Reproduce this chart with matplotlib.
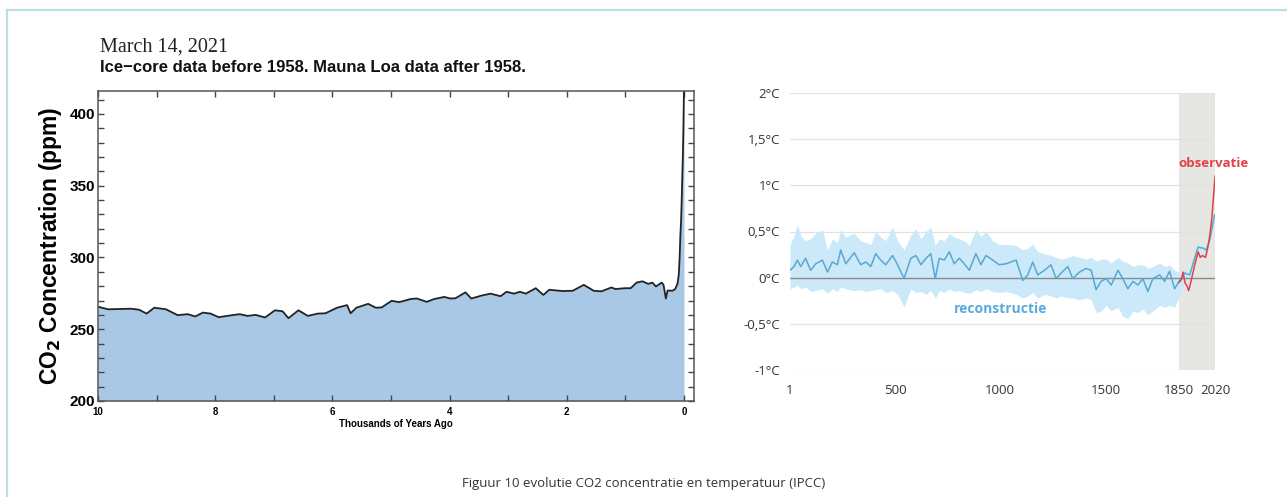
import matplotlib
matplotlib.use("Agg")
import matplotlib.pyplot as plt
from matplotlib.lines import Line2D
from matplotlib.ticker import MultipleLocator, FixedLocator

# ---------------- Data: CO2 (left) ----------------
co2_kya = [10.0, 9.83, 9.44, 9.30, 9.17, 9.04, 8.84, 8.64, 8.47, 8.34, 8.21, 8.08,
           7.94, 7.71, 7.58, 7.45, 7.31, 7.15, 6.98, 6.85, 6.75, 6.58, 6.42, 6.25,
           6.12, 5.92, 5.75, 5.69, 5.59, 5.39, 5.26, 5.16, 4.99, 4.86, 4.66, 4.56,
           4.39, 4.26, 4.09, 3.99, 3.90, 3.73, 3.63, 3.46, 3.30, 3.13, 3.03, 2.90,
           2.80, 2.70, 2.53, 2.40, 2.30, 2.07, 1.90, 1.71, 1.54, 1.41, 1.24, 1.17,
           1.01, 0.91, 0.81, 0.71, 0.61, 0.54, 0.48, 0.38, 0.35, 0.31, 0.28, 0.20,
           0.15, 0.11, 0.09, 0.075, 0.063, 0.051, 0.041, 0.031, 0.021, 0.011, 0.001]
co2_ppm = [265.7, 263.9, 264.3, 263.6, 260.9, 265.0, 263.9, 259.8, 260.5, 258.9, 261.6, 260.9,
           258.4, 259.8, 260.5, 259.3, 260.0, 258.2, 263.2, 262.5, 257.7, 263.2, 259.3, 260.9,
           261.1, 265.0, 266.8, 261.1, 265.0, 267.7, 265.0, 265.2, 269.8, 268.9, 271.1, 271.4,
           269.1, 271.1, 272.5, 271.4, 271.6, 275.7, 271.4, 273.4, 274.8, 273.0, 276.1, 274.8,
           276.1, 274.8, 278.6, 273.9, 277.5, 276.6, 276.8, 280.9, 276.8, 276.4, 279.1, 278.0,
           278.6, 278.6, 282.5, 283.4, 281.6, 282.5, 279.8, 282.5, 280.9, 271.4, 277.0, 276.8,
           278.0, 282.0, 288.0, 300.0, 315.0, 325.0, 338.0, 354.0, 369.0, 389.0, 417.0]

# ---------------- Data: temperature (right) ----------------
rec_year = [1, 20, 36, 52, 75, 99, 123, 155, 179, 202, 226, 242, 266, 306, 337, 361, 385,
            408, 432, 456, 488, 512, 543, 575, 599, 623, 647, 670, 691, 710, 734, 758, 781,
            805, 829, 853, 884, 908, 932, 964, 995, 1027, 1075, 1107, 1130, 1154, 1178,
            1210, 1241, 1265, 1289, 1321, 1344, 1376, 1408, 1432, 1455, 1479, 1503, 1527,
            1559, 1582, 1606, 1630, 1654, 1677, 1701, 1725, 1757, 1781, 1804, 1828, 1852,
            1876, 1900, 1923, 1939, 1963, 1979, 1995, 2018]
rec_mid = [0.08, 0.12, 0.19, 0.12, 0.21, 0.08, 0.15, 0.19, 0.06, 0.17, 0.14, 0.30, 0.15,
           0.27, 0.14, 0.17, 0.12, 0.26, 0.19, 0.14, 0.24, 0.14, -0.01, 0.21, 0.24, 0.14,
           0.21, 0.26, -0.01, 0.21, 0.19, 0.28, 0.15, 0.21, 0.15, 0.08, 0.26, 0.14, 0.24,
           0.19, 0.14, 0.15, 0.19, -0.03, 0.03, 0.17, 0.03, 0.08, 0.14, -0.01, 0.05, 0.12,
           -0.01, 0.06, 0.10, 0.08, -0.13, -0.04, -0.01, -0.08, 0.08, -0.01, -0.12, -0.04,
           -0.08, -0.01, -0.15, -0.01, 0.03, -0.04, 0.07, -0.12, -0.03, 0.05, 0.03, 0.21,
           0.33, 0.32, 0.30, 0.41, 0.68]
rec_up = [0.36, 0.45, 0.58, 0.45, 0.40, 0.42, 0.48, 0.52, 0.30, 0.42, 0.38, 0.52, 0.44,
          0.48, 0.40, 0.38, 0.36, 0.50, 0.44, 0.40, 0.55, 0.40, 0.30, 0.46, 0.53, 0.42,
          0.50, 0.55, 0.35, 0.42, 0.40, 0.48, 0.44, 0.42, 0.40, 0.35, 0.52, 0.45, 0.50,
          0.40, 0.36, 0.36, 0.35, 0.30, 0.32, 0.36, 0.28, 0.26, 0.24, 0.22, 0.20, 0.22,
          0.24, 0.22, 0.20, 0.22, 0.18, 0.20, 0.20, 0.16, 0.22, 0.18, 0.16, 0.12, 0.14,
          0.14, 0.10, 0.12, 0.16, 0.12, 0.14, 0.08, 0.06, 0.08, 0.08, 0.26, 0.37, 0.36,
          0.34, 0.45, 0.72]
rec_lo = [-0.12, -0.10, -0.08, -0.12, -0.10, -0.15, -0.14, -0.12, -0.17, -0.12, -0.15,
          -0.10, -0.12, -0.14, -0.13, -0.15, -0.14, -0.13, -0.12, -0.16, -0.14, -0.18,
          -0.32, -0.12, -0.16, -0.15, -0.18, -0.14, -0.22, -0.14, -0.16, -0.12, -0.15,
          -0.14, -0.16, -0.17, -0.13, -0.15, -0.12, -0.15, -0.16, -0.15, -0.18, -0.22,
          -0.20, -0.16, -0.22, -0.18, -0.20, -0.22, -0.20, -0.22, -0.22, -0.24, -0.22,
          -0.24, -0.38, -0.36, -0.30, -0.36, -0.32, -0.42, -0.44, -0.36, -0.38, -0.34,
          -0.40, -0.36, -0.30, -0.32, -0.30, -0.32, -0.20, -0.05, -0.03, 0.16, 0.28,
          0.28, 0.26, 0.38, 0.64]
obs_year = [1850, 1860, 1868, 1878, 1885, 1895, 1905, 1915, 1925, 1940, 1950, 1960,
            1975, 1985, 1995, 2005, 2012, 2020]
obs_val = [-0.05, -0.02, 0.06, -0.06, -0.08, -0.14, -0.05, 0.05, 0.15, 0.28, 0.22,
           0.24, 0.22, 0.32, 0.45, 0.65, 0.85, 1.10]

temp_ticks = [2, 1.5, 1, 0.5, 0, -0.5, -1]
temp_labels = ["2°C", "1,5°C", "1°C", "0,5°C", "0°C", "-0,5°C", "-1°C"]
year_ticks = [1, 500, 1000, 1500, 1850, 2020]
year_labels = ["1", "500", "1000", "1500", "1850", "2020"]

# ---------------- Figure ----------------
W, H = 1287, 497
fig = plt.figure(figsize=(W / 100, H / 100), dpi=100)
fig.patch.set_facecolor("white")

def fx(px):
    return px / W

def fy(py):
    return 1 - py / H

# cyan frame lines
border = "#b9dfe2"
fig.add_artist(Line2D([fx(7), fx(7)], [fy(10), 0], color=border, lw=1.6))
fig.add_artist(Line2D([fx(7), 1], [fy(10), fy(10)], color=border, lw=1.6))

# ----- Left axes -----
ax = fig.add_axes([fx(98), fy(401), fx(694) - fx(98), fy(91) - fy(401)])
ax.fill_between(co2_kya, co2_ppm, 200, color="#a8c8e6", lw=0)
ax.plot(co2_kya, co2_ppm, color="#222222", lw=1.3)
ax.set_xlim(10, -0.17)
ax.set_ylim(200, 416)
ax.xaxis.set_major_locator(FixedLocator([10, 8, 6, 4, 2, 0]))
ax.xaxis.set_minor_locator(FixedLocator([9, 7, 5, 3, 1]))
ax.yaxis.set_major_locator(MultipleLocator(50))
ax.yaxis.set_minor_locator(MultipleLocator(10))
ax.tick_params(which="both", direction="in", top=True, right=True, color="#444444",
               width=1, length=4.5)
ax.tick_params(axis="x", labelsize=7, pad=4)
ax.tick_params(axis="y", labelsize=11, pad=2)
for lab in ax.get_xticklabels() + ax.get_yticklabels():
    lab.set_fontweight("bold")
    lab.set_family("Liberation Sans")
for s in ax.spines.values():
    s.set_color("#555555")
    s.set_linewidth(1.1)
ax.set_xlabel("Thousands of Years Ago", fontsize=7, fontweight="bold",
              family="Liberation Sans", labelpad=2)
ax.set_ylabel("CO$_\\mathbf{2}$ Concentration (ppm)", fontsize=16.5, fontweight="bold",
              family="Liberation Sans", labelpad=4)

fig.text(fx(100), fy(52), "March 14, 2021", fontsize=14.5, family="Liberation Serif",
         color="#222222", va="baseline")
fig.text(fx(100), fy(72), "Ice\u2212core data before 1958. Mauna Loa data after 1958.",
         fontsize=12, fontweight="bold", family="Liberation Sans", color="#111111",
         va="baseline")

# ----- Right axes -----
ax2 = fig.add_axes([fx(790), fy(370), fx(1215) - fx(790), fy(93) - fy(370)])
ax2.set_xlim(1, 2020)
ax2.set_ylim(-1, 2)
ax2.axvspan(1850, 2020, color="#e6e6e2", lw=0, zorder=0)
for v in temp_ticks:
    if v != 0:
        ax2.axhline(v, color="#e2e2e2", lw=0.9, zorder=1)
ax2.fill_between(rec_year, rec_lo, rec_up, color="#cbe9f9", lw=0, zorder=2)
ax2.axhline(0, color="#8a8a8a", lw=1.0, zorder=2.5)
ax2.plot(rec_year, rec_mid, color="#5aa8cf", lw=1.1, zorder=3)
ax2.plot(obs_year, obs_val, color="#e0434a", lw=1.1, zorder=4)
ax2.set_xticks(year_ticks)
ax2.set_xticklabels(year_labels)
ax2.set_yticks(temp_ticks)
ax2.set_yticklabels(temp_labels)
ax2.tick_params(length=0, labelsize=9.5, labelcolor="#333333")
ax2.tick_params(axis="x", pad=10)
ax2.tick_params(axis="y", pad=7)
for lab in ax2.get_xticklabels() + ax2.get_yticklabels():
    lab.set_family("Open Sans")
for s in ax2.spines.values():
    s.set_visible(False)
ax2.set_facecolor("none")
ax2.text(1000, -0.34, "reconstructie", color="#5aabdc", fontsize=10, fontweight="bold",
         family="Open Sans", va="center", ha="center")
ax2.text(2015, 1.24, "observatie", color="#e0434a", fontsize=9.5, fontweight="bold",
         family="Open Sans", va="center", ha="center")

fig.text(0.5, fy(484), "Figuur 10 evolutie CO2 concentratie en temperatuur (IPCC)",
         fontsize=9.5, family="Open Sans", color="#333333", ha="center", va="center")

fig.savefig("out.png", dpi=100)
